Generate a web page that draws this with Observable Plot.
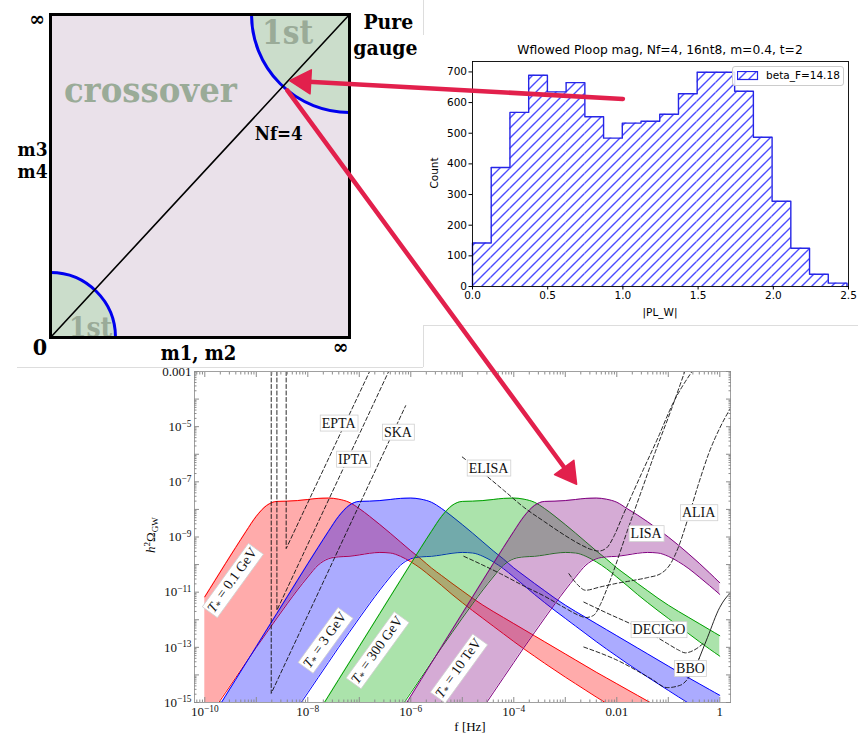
<!DOCTYPE html>
<html>
<head>
<meta charset="utf-8">
<title>Nf=4 phase diagram, Polyakov loop histogram and GW spectra</title>
<script src="https://cdn.jsdelivr.net/npm/d3@7"></script>
<script src="https://cdn.jsdelivr.net/npm/@observablehq/plot@0.6"></script>
<style>
html,body{margin:0;padding:0;background:#fff;}
#root{position:relative;width:858px;height:739px;overflow:hidden;background:#fff;}
.abs{position:absolute;}
.abs>svg{display:block;}
.c{position:absolute;transform:translate(-50%,-50%);white-space:nowrap;}
.rot{position:absolute;transform:translate(-50%,-50%) rotate(-90deg);white-space:nowrap;}
.bline{position:absolute;background:#dddddd;}
</style>
</head>
<body>
<div id="root"></div>
<script>
// ======================= DATA =======================
// --- Panel A: schematic phase diagram ---
const phaseXLabel = "m1, m2";
const phaseYLabel = ["m3", "m4"];
const phaseFirstOrderCorners = [{m12: 1, m34: 1}, {m12: 0, m34: 0}]; // pure gauge corner, chiral corner
const phaseNf4Line = [{m12: 0, m34: 0}, {m12: 1, m34: 1}];

// --- Panel B: histogram of |PL_W| ---
const histTitle = "Wflowed Ploop mag, Nf=4, 16nt8, m=0.4, t=2";
const histXLabel = "|PL_W|";
const histYLabel = "Count";
const histLegendLabel = "beta_F=14.18";
const plwBinEdges = [0.000, 0.1245, 0.249, 0.3735, 0.498, 0.6225, 0.747, 0.8715, 0.996, 1.1205, 1.245,
                     1.3695, 1.494, 1.6185, 1.743, 1.8675, 1.992, 2.1165, 2.241, 2.3655, 2.490];
const plwCounts = [142, 388, 568, 689, 635, 665, 554, 484, 533, 539, 562, 629, 699, 699, 637, 487, 278, 125, 40, 11];
const histTicksX = [0, 0.5, 1, 1.5, 2, 2.5];
const histTicksY = [0, 100, 200, 300, 400, 500, 600, 700];

// --- Panel C: h^2 Omega_GW bands: [log10 f, log10 upper, log10 lower] ---
const gwBandLabels = ["0.1 GeV", "3 GeV", "300 GeV", "10 TeV"];
const bandRed = [
 [-10.0,-11.17,-15.75],[-9.8,-10.57,-15.20],[-9.6,-9.97,-14.65],[-9.4,-9.38,-14.10],[-9.2,-8.80,-13.55],
 [-9.0,-8.25,-13.00],[-8.8,-7.86,-12.47],[-8.6,-7.71,-11.94],[-8.4,-7.70,-11.42],[-8.2,-7.68,-10.92],
 [-8.0,-7.64,-10.45],[-7.8,-7.60,-10.02],[-7.6,-7.59,-9.79],[-7.4,-7.63,-9.72],[-7.2,-7.74,-9.70],
 [-7.0,-7.97,-9.65],[-6.8,-8.25,-9.59],[-6.6,-8.55,-9.56],[-6.4,-8.86,-9.58],[-6.2,-9.18,-9.70],
 [-6.0,-9.50,-9.90],[-5.8,-9.80,-10.15],[-5.6,-10.12,-10.45],[-5.4,-10.40,-10.76],[-5.2,-10.68,-11.08],
 [-5.0,-10.95,-11.38],[-4.8,-11.22,-11.67],[-4.6,-11.47,-11.95],[-4.4,-11.70,-12.23],[-4.2,-11.92,-12.51],
 [-4.0,-12.14,-12.79],[-3.8,-12.36,-13.06],[-3.6,-12.58,-13.32],[-3.4,-12.80,-13.58],[-3.2,-13.02,-13.83],
 [-3.0,-13.24,-14.08],[-2.8,-13.46,-14.32],[-2.6,-13.68,-14.56],[-2.4,-13.90,-14.80],[-2.2,-14.11,-15.03],
 [-2.0,-14.32,-15.26],[-1.8,-14.53,-15.49],[-1.6,-14.74,-15.72],[-1.4,-14.95,-15.95],[-1.2,-15.16,-16.18],
 [-1.0,-15.37,-16.41]
];
const bandBlue = [
 [-9.8,-15.37,-16.5],[-9.6,-14.77,-16.5],[-9.4,-14.17,-16.5],[-9.2,-13.57,-16.5],[-9.0,-12.97,-16.5],
 [-8.8,-12.37,-16.5],[-8.6,-11.77,-16.30],[-8.4,-11.17,-15.75],[-8.2,-10.57,-15.20],[-8.0,-9.97,-14.65],
 [-7.8,-9.38,-14.10],[-7.6,-8.80,-13.55],[-7.4,-8.25,-13.00],[-7.2,-7.86,-12.47],[-7.0,-7.71,-11.94],
 [-6.8,-7.70,-11.42],[-6.6,-7.68,-10.92],[-6.4,-7.64,-10.45],[-6.2,-7.60,-10.02],[-6.0,-7.59,-9.79],
 [-5.8,-7.63,-9.72],[-5.6,-7.74,-9.70],[-5.4,-7.97,-9.65],[-5.2,-8.25,-9.59],[-5.0,-8.55,-9.56],
 [-4.8,-8.86,-9.58],[-4.6,-9.18,-9.70],[-4.4,-9.50,-9.90],[-4.2,-9.80,-10.15],[-4.0,-10.12,-10.45],
 [-3.8,-10.40,-10.76],[-3.6,-10.68,-11.08],[-3.4,-10.95,-11.38],[-3.2,-11.22,-11.67],[-3.0,-11.47,-11.95],
 [-2.8,-11.70,-12.23],[-2.6,-11.92,-12.51],[-2.4,-12.14,-12.79],[-2.2,-12.36,-13.06],[-2.0,-12.58,-13.32],
 [-1.8,-12.80,-13.58],[-1.6,-13.02,-13.83],[-1.4,-13.24,-14.08],[-1.2,-13.46,-14.32],[-1.0,-13.68,-14.56],
 [-0.8,-13.90,-14.80],[-0.6,-14.11,-15.03],[-0.4,-14.32,-15.26],[-0.2,-14.53,-15.49],[0.0,-14.74,-15.72]
];
const bandGreen = [
 [-7.8,-15.37,-16.5],[-7.6,-14.77,-16.5],[-7.4,-14.17,-16.5],[-7.2,-13.57,-16.5],[-7.0,-12.97,-16.5],
 [-6.8,-12.37,-16.5],[-6.6,-11.77,-16.30],[-6.4,-11.17,-15.75],[-6.2,-10.57,-15.20],[-6.0,-9.97,-14.65],
 [-5.8,-9.38,-14.10],[-5.6,-8.80,-13.55],[-5.4,-8.25,-13.00],[-5.2,-7.86,-12.47],[-5.0,-7.71,-11.94],
 [-4.8,-7.70,-11.42],[-4.6,-7.68,-10.92],[-4.4,-7.64,-10.45],[-4.2,-7.60,-10.02],[-4.0,-7.59,-9.79],
 [-3.8,-7.63,-9.72],[-3.6,-7.74,-9.70],[-3.4,-7.97,-9.65],[-3.2,-8.25,-9.59],[-3.0,-8.55,-9.56],
 [-2.8,-8.86,-9.58],[-2.6,-9.18,-9.70],[-2.4,-9.50,-9.90],[-2.2,-9.80,-10.15],[-2.0,-10.12,-10.45],
 [-1.8,-10.40,-10.76],[-1.6,-10.68,-11.08],[-1.4,-10.95,-11.38],[-1.2,-11.22,-11.67],[-1.0,-11.47,-11.95],
 [-0.8,-11.70,-12.23],[-0.6,-11.92,-12.51],[-0.4,-12.14,-12.79],[-0.2,-12.36,-13.06],[0.0,-12.58,-13.32]
];
const bandPurple = [
 [-6.2,-15.37,-16.5],[-6.0,-14.77,-16.5],[-5.8,-14.17,-16.5],[-5.6,-13.57,-16.5],[-5.4,-12.97,-16.5],
 [-5.2,-12.37,-16.5],[-5.0,-11.77,-16.30],[-4.8,-11.17,-15.75],[-4.6,-10.57,-15.20],[-4.4,-9.97,-14.65],
 [-4.2,-9.38,-14.10],[-4.0,-8.80,-13.55],[-3.8,-8.25,-13.00],[-3.6,-7.86,-12.47],[-3.4,-7.71,-11.94],
 [-3.2,-7.70,-11.42],[-3.0,-7.68,-10.92],[-2.8,-7.64,-10.45],[-2.6,-7.60,-10.02],[-2.4,-7.59,-9.79],
 [-2.2,-7.63,-9.72],[-2.0,-7.74,-9.70],[-1.8,-7.97,-9.65],[-1.6,-8.20,-9.59],[-1.4,-8.45,-9.56],
 [-1.2,-8.72,-9.58],[-1.0,-9.00,-9.70],[-0.8,-9.30,-9.90],[-0.6,-9.62,-10.15],[-0.4,-9.95,-10.45],
 [-0.2,-10.30,-10.76],[0.0,-10.66,-11.08]
];
// Detector sensitivity curves: [log10 f, log10 h^2 Omega]
const curveEPTA = [[-8.42,-3.0],[-8.42,-9.42],[-6.80,-3.0]];
const curveIPTA = [[-8.60,-3.0],[-8.60,-11.66],[-6.43,-3.0]];
const curveSKA  = [[-8.71,-3.0],[-8.71,-14.67],[-6.10,-4.24]];
const curveELISA = [[-5.0,-6.10],[-4.6,-6.68],[-4.2,-7.30],[-3.8,-7.93],[-3.4,-8.45],[-3.0,-8.95],[-2.7,-9.28],
  [-2.5,-9.45],[-2.35,-9.51],[-2.2,-9.40],[-2.05,-8.95],[-1.9,-8.30],[-1.7,-7.45],[-1.5,-6.62],[-1.2,-5.40],
  [-0.9,-4.12],[-0.54,-3.0]];
const curveLISA = [[-4.97,-9.70],[-4.6,-10.02],[-4.26,-10.33],[-3.8,-10.78],[-3.4,-11.15],[-3.0,-11.58],
  [-2.75,-11.83],[-2.6,-11.92],[-2.45,-11.84],[-2.32,-11.45],[-2.2,-10.92],[-2.06,-10.22],[-1.8,-8.8],
  [-1.54,-7.43],[-1.22,-5.75],[-0.95,-4.42],[-0.68,-3.0]];
const curveALIA = [[-2.93,-10.33],[-2.75,-10.75],[-2.61,-10.93],[-2.32,-10.81],[-2.0,-10.68],[-1.67,-10.57],
  [-1.4,-10.47],[-1.15,-10.33],[-0.95,-9.95],[-0.8,-9.35],[-0.63,-8.4],[-0.4,-7.0],[-0.2,-5.9],[0.0,-5.05],[0.21,-4.32]];
const curveDECIGO = [[-2.64,-11.36],[-2.2,-11.75],[-1.67,-12.2],[-1.3,-12.55],[-1.02,-12.86],[-0.8,-13.1],
  [-0.67,-13.2],[-0.52,-13.12],[-0.4,-12.98],[-0.3,-12.82]];
const curveBBO = [[-2.64,-12.99],[-1.99,-13.47],[-1.34,-14.13],[-1.02,-14.46],[-0.76,-14.37],[-0.57,-14.01],
  [-0.47,-13.7],[-0.4,-13.4]];
const curveHighF = [[-0.4,-13.4],[-0.24,-12.65],[0.0,-11.55],[0.1,-11.25],[0.21,-11.02]];
const gwTickValuesX = [1e-10, 1e-8, 1e-6, 1e-4, 1e-2, 1];
const gwTickLabelsX = ["10^\u221210", "10^\u22128", "10^\u22126", "10^\u22124", "0.01", "1"];
const gwTickValuesY = [1e-15, 1e-13, 1e-11, 1e-9, 1e-7, 1e-5, 1e-3];
const gwTickLabelsY = ["10^\u221215", "10^\u221213", "10^\u221211", "10^\u22129", "10^\u22127", "10^\u22125", "0.001"];

// ======================= BUILD =======================
const NS = "http://www.w3.org/2000/svg";
const root = document.getElementById("root");
const p10 = e => Math.pow(10, e);
const RED = "#e2204c";

function mount(node, left, top, z) {
  const d = document.createElement("div");
  d.className = "abs";
  Object.assign(d.style, {left: left + "px", top: top + "px", zIndex: z});
  d.appendChild(node);
  root.appendChild(d);
  return d;
}
function htmlText(cls, content, left, top, css) {
  const d = document.createElement("div");
  d.className = cls;
  d.innerHTML = content;
  Object.assign(d.style, {left: left + "px", top: top + "px"}, css || {});
  root.appendChild(d);
  return d;
}
function bline(left, top, w, h) {
  const d = document.createElement("div");
  d.className = "bline";
  Object.assign(d.style, {left: left + "px", top: top + "px", width: w + "px", height: h + "px", zIndex: 3});
  root.appendChild(d);
}

// ---------- Panel C: GW spectra ----------
const GW = {left: 140, top: 355};
const gwBands = [
  {rows: bandRed, fill: "#ff0000", line: "#ff0000"},
  {rows: bandBlue, fill: "#0000ff", line: "#0000ff"},
  {rows: bandGreen, fill: "#00aa00", line: "#00a000"},
  {rows: bandPurple, fill: "#800080", line: "#800080"}
];
const bandMarks = gwBands.flatMap(b => {
  const rows = b.rows.map(([lf, hi, lo]) => ({f: p10(lf), hi: p10(hi), lo: p10(lo)}));
  return [
    Plot.areaY(rows, {x: "f", y1: "lo", y2: "hi", fill: b.fill, fillOpacity: 0.33, curve: "monotone-x", clip: true}),
    Plot.line(rows, {x: "f", y: "hi", stroke: b.line, strokeWidth: 1, curve: "monotone-x", clip: true}),
    Plot.line(rows, {x: "f", y: "lo", stroke: b.line, strokeWidth: 1, curve: "monotone-x", clip: true})
  ];
});
const toPts = arr => arr.map(([lf, lo]) => ({f: p10(lf), o: p10(lo)}));
const dashed = {stroke: "#111", strokeWidth: 0.9, strokeDasharray: "4,2.5", clip: true};
const detectorMarks = [
  Plot.line(toPts(curveEPTA), {x: "f", y: "o", ...dashed}),
  Plot.line(toPts(curveIPTA), {x: "f", y: "o", ...dashed}),
  Plot.line(toPts(curveSKA), {x: "f", y: "o", ...dashed}),
  Plot.line(toPts(curveELISA), {x: "f", y: "o", curve: "monotone-x", ...dashed}),
  Plot.line(toPts(curveLISA), {x: "f", y: "o", curve: "monotone-x", ...dashed}),
  Plot.line(toPts(curveALIA), {x: "f", y: "o", curve: "monotone-x", ...dashed}),
  Plot.line(toPts(curveDECIGO), {x: "f", y: "o", curve: "monotone-x", ...dashed}),
  Plot.line(toPts(curveBBO), {x: "f", y: "o", curve: "monotone-x", ...dashed}),
  Plot.line(toPts(curveHighF), {x: "f", y: "o", curve: "monotone-x", stroke: "#111", strokeWidth: 0.9, clip: true})
];
// annotation placements (data coordinates)
const detectorAnnotations = [
  {t: "EPTA", lf: -7.40, lo: -4.87}, {t: "IPTA", lf: -7.12, lo: -6.18}, {t: "SKA", lf: -6.25, lo: -5.20},
  {t: "ELISA", lf: -4.49, lo: -6.50}, {t: "LISA", lf: -1.43, lo: -8.88}, {t: "ALIA", lf: -0.41, lo: -8.12},
  {t: "DECIGO", lf: -1.18, lo: -12.36}, {t: "BBO", lf: -0.57, lo: -13.77}
];
const bandAnnotations = [
  {t: "T* = " + gwBandLabels[0], lf: -9.46, lo: -10.57},
  {t: "T* = " + gwBandLabels[1], lf: -7.66, lo: -12.74},
  {t: "T* = " + gwBandLabels[2], lf: -6.65, lo: -13.10},
  {t: "T* = " + gwBandLabels[3], lf: -5.07, lo: -13.76}
];
const xDom = [p10(-10.2), p10(0.208)];
const gwDecX = d3.range(-10, 1).map(p10);
const gwMinX = d3.range(-11, 1).flatMap(d => d3.range(2, 10).map(k => k * p10(d))).filter(v => v > xDom[0] && v < xDom[1]);
const gwDecY = d3.range(-15, -2).map(p10);
const gwMinY = d3.range(-15, -3).flatMap(d => d3.range(2, 10).map(k => k * p10(d)));
const labX = new Map(gwTickValuesX.map((v, i) => [v, gwTickLabelsX[i]]));
const labY = new Map(gwTickValuesY.map((v, i) => [v, gwTickLabelsY[i]]));
const tk = {stroke: "#8c8c8c", tickFormat: () => "", label: null};
const gw = Plot.plot({
  width: 600, height: 384, marginLeft: 54, marginRight: 10, marginTop: 16, marginBottom: 37,
  x: {type: "log", domain: xDom},
  y: {type: "log", domain: [1e-15, 1e-3]},
  style: {background: "transparent", fontFamily: "'Liberation Serif', 'DejaVu Serif', serif", fontSize: "13px", color: "#111", overflow: "visible"},
  marks: [
    ...bandMarks,
    ...detectorMarks,
    Plot.frame({stroke: "#a0a0a0", strokeWidth: 1}),
    Plot.axisX({anchor: "bottom", ticks: gwDecX, tickSize: -5, ...tk}),
    Plot.axisX({anchor: "bottom", ticks: gwMinX, tickSize: -2.5, ...tk}),
    Plot.axisX({anchor: "top", ticks: gwDecX, tickSize: -5, ...tk}),
    Plot.axisX({anchor: "top", ticks: gwMinX, tickSize: -2.5, ...tk}),
    Plot.axisY({anchor: "left", ticks: gwDecY, tickSize: -5, ...tk}),
    Plot.axisY({anchor: "left", ticks: gwMinY, tickSize: -2.5, ...tk}),
    Plot.axisY({anchor: "right", ticks: gwDecY, tickSize: -5, ...tk}),
    Plot.axisY({anchor: "right", ticks: gwMinY, tickSize: -2.5, ...tk}),
    Plot.axisX({anchor: "bottom", ticks: gwTickValuesX, tickSize: 0, tickPadding: 4, tickFormat: d => labX.get(d), label: null}),
    Plot.axisY({anchor: "left", ticks: gwTickValuesY, tickSize: 0, tickPadding: 3, tickFormat: d => labY.get(d), label: null}),
    Plot.text(detectorAnnotations, {x: d => p10(d.lf), y: d => p10(d.lo), text: "t", fontSize: 14, fill: "#111"}),
    Plot.text(bandAnnotations, {x: d => p10(d.lf), y: d => p10(d.lo), text: "t", fontSize: 14, rotate: -54, fill: "#111"})
  ]
});
mount(gw, GW.left, GW.top, 1);

// superscripts for "10^-n" tick labels
gw.querySelectorAll("text").forEach(t => {
  if (t.children.length === 0 && t.textContent.includes("^")) {
    const [base, ex] = t.textContent.split("^");
    t.textContent = base;
    const s = document.createElementNS(NS, "tspan");
    s.setAttribute("dy", "-0.45em");
    s.setAttribute("font-size", "0.72em");
    s.textContent = ex;
    t.appendChild(s);
  }
});
// band labels: italic T with subscript star
gw.querySelectorAll("text").forEach(t => {
  const s = t.textContent;
  if (s.startsWith("T* = ")) {
    t.textContent = "";
    const a = document.createElementNS(NS, "tspan"); a.setAttribute("font-style", "italic"); a.textContent = "T";
    const b = document.createElementNS(NS, "tspan"); b.setAttribute("dy", "0.25em"); b.setAttribute("font-size", "0.75em"); b.textContent = "*";
    const c = document.createElementNS(NS, "tspan"); c.setAttribute("dy", "-0.25em"); c.textContent = " = " + s.slice(5);
    t.append(a, b, c);
  }
});
// white label boxes
const boxed = new Set(detectorAnnotations.map(d => d.t));
gw.querySelectorAll("text").forEach(t => {
  const isBand = t.querySelector("tspan[font-style]") !== null;
  if (!(boxed.has(t.textContent) || isBand)) return;
  const bb = t.getBBox();
  const r = document.createElementNS(NS, "rect");
  const pad = 1.5;
  r.setAttribute("x", bb.x - pad); r.setAttribute("y", bb.y - pad + 1);
  r.setAttribute("width", bb.width + 2 * pad); r.setAttribute("height", bb.height + 2 * pad - 2);
  r.setAttribute("fill", "#fff"); r.setAttribute("stroke", "#d0d0d0"); r.setAttribute("stroke-width", "0.8");
  if (t.getAttribute("transform")) r.setAttribute("transform", t.getAttribute("transform"));
  t.parentNode.insertBefore(r, t);
});
htmlText("rot", "<i>h</i><sup style='font-size:70%'>2</sup>\u03a9<sub style='font-size:70%'>GW</sub>", 151, 535,
  {fontFamily: "'Liberation Serif', serif", fontSize: "13px", zIndex: 1});
htmlText("c", "f [Hz]", 470, 727, {fontFamily: "'Liberation Serif', serif", fontSize: "13px", zIndex: 1});

// ---------- Panel A: phase diagram ----------
const PH = {left: 0, top: 0};
const muted = "#9aab98";
const phf = "'DejaVu Serif Condensed', 'DejaVu Serif', serif";
const phaseAnnotations = [
  {t: "\u221e", x: -0.045, y: 0.985, s: 21, c: "#000"},
  {t: "0", x: -0.035, y: -0.03, s: 23, c: "#000"},
  {t: "\u221e", x: 0.97, y: -0.03, s: 21, c: "#000"},
  {t: phaseXLabel, x: 0.495, y: -0.05, s: 20, c: "#000"},
  {t: phaseYLabel[0], x: -0.06, y: 0.58, s: 19, c: "#000"},
  {t: phaseYLabel[1], x: -0.06, y: 0.512, s: 19, c: "#000"},
  {t: "Pure", x: 1.13, y: 0.975, s: 21, c: "#000"},
  {t: "gauge", x: 1.12, y: 0.895, s: 21, c: "#000"},
  {t: "Nf=4", x: 0.763, y: 0.63, s: 18.5, c: "#000"},
  {t: "crossover", x: 0.334, y: 0.765, s: 36, c: muted},
  {t: "1st", x: 0.793, y: 0.94, s: 33, c: muted}
];
const phase = Plot.plot({
  width: 423, height: 367, marginLeft: 50, marginRight: 74, marginTop: 14, marginBottom: 30,
  x: {domain: [0, 1], axis: null}, y: {domain: [0, 1], axis: null},
  style: {background: "#fff", overflow: "visible"},
  marks: [
    Plot.frame({fill: "#eae1ea", stroke: "none"}),
    Plot.dot([phaseFirstOrderCorners[0]], {x: "m12", y: "m34", r: 98, fill: "#cbddcb", stroke: "#0000ee", strokeWidth: 3, clip: true}),
    Plot.dot([phaseFirstOrderCorners[1]], {x: "m12", y: "m34", r: 65, fill: "#cbddcb", stroke: "#0000ee", strokeWidth: 3, clip: true}),
    Plot.line(phaseNf4Line, {x: "m12", y: "m34", stroke: "#000", strokeWidth: 1.6}),
    Plot.text([phaseFirstOrderCorners[1]], {x: () => 0.134, y: () => 0.03, text: () => "1st", fontSize: 28, fill: muted,
      fontWeight: "bold", fontFamily: phf, clip: true}),
    Plot.frame({stroke: "#000", strokeWidth: 3}),
    ...phaseAnnotations.map(a => Plot.text([a], {x: "x", y: "y", text: "t", fontSize: a.s, fill: a.c, fontWeight: "bold", fontFamily: phf}))
  ]
});
mount(phase, PH.left, PH.top, 2);

// ---------- Panel B: histogram ----------
const HB = {left: 430, top: 38};
const histRows = plwCounts.map((c, i) => ({x0: plwBinEdges[i], x1: plwBinEdges[i + 1], count: c}));
const histStep = [{x: plwBinEdges[0], y: 0}];
histRows.forEach(r => histStep.push({x: r.x0, y: r.count}, {x: r.x1, y: r.count}));
histStep.push({x: plwBinEdges[plwBinEdges.length - 1], y: 0});
const HATCH = "#4b4bff";
const hist = Plot.plot({
  width: 428, height: 287, marginLeft: 42, marginRight: 10, marginTop: 23, marginBottom: 39,
  x: {domain: [0, 2.5]}, y: {domain: [0, 734]},
  style: {background: "transparent", fontFamily: "'DejaVu Sans', sans-serif", fontSize: "10.5px", color: "#000", overflow: "visible"},
  marks: [
    Plot.rect(histRows, {x1: "x0", x2: "x1", y1: 0, y2: "count", fill: "url(#plwHatch)"}),
    Plot.line(histStep, {x: "x", y: "y", stroke: "#2626e6", strokeWidth: 1.4}),
    Plot.frame({stroke: "#000", strokeWidth: 0.9}),
    Plot.axisX({ticks: histTicksX, tickFormat: d3.format(".1f"), tickSize: 3.5, tickPadding: 2, label: null}),
    Plot.axisY({ticks: histTicksY, tickSize: 3.5, tickPadding: 2, label: null})
  ]
});
const defs = d3.select(hist).insert("defs", ":first-child");
defs.append("pattern").attr("id", "plwHatch").attr("patternUnits", "userSpaceOnUse").attr("width", 10).attr("height", 10)
  .append("path").attr("d", "M-2,2 L2,-2 M0,10 L10,0 M8,12 L12,8")
  .attr("stroke", HATCH).attr("stroke-width", 1.4).attr("fill", "none");
mount(hist, HB.left, HB.top, 2);
htmlText("c", histTitle, 660, 50, {fontFamily: "'DejaVu Sans', sans-serif", fontSize: "12.3px", zIndex: 3});
htmlText("c", histXLabel, 660, 312, {fontFamily: "'DejaVu Sans', sans-serif", fontSize: "10.5px", zIndex: 3});
htmlText("rot", histYLabel, 434, 173, {fontFamily: "'DejaVu Sans', sans-serif", fontSize: "10.5px", zIndex: 3});
const leg = document.createElement("div");
Object.assign(leg.style, {position: "absolute", left: "732px", top: "66px", width: "110px", height: "18px",
  border: "1px solid #cccccc", borderRadius: "3px", background: "rgba(255,255,255,0.85)", zIndex: 3,
  fontFamily: "'DejaVu Sans', sans-serif", fontSize: "10.5px"});
leg.innerHTML = `<svg width="22" height="10" style="position:absolute;left:4px;top:4px">
  <defs><pattern id="legHatch" patternUnits="userSpaceOnUse" width="10" height="10">
  <path d="M-2,2 L2,-2 M0,10 L10,0 M8,12 L12,8" stroke="${HATCH}" stroke-width="1.4" fill="none"/></pattern></defs>
  <rect x="0.5" y="0.5" width="20" height="8" fill="url(#legHatch)" stroke="#2626e6" stroke-width="1.2"/></svg>
  <span style="position:absolute;left:33px;top:2px;white-space:nowrap">${histLegendLabel}</span>`;
root.appendChild(leg);

// screenshot borders
bline(17, 367, 406, 1);
bline(423, 325, 435, 1);
bline(423, 0, 1, 35);
bline(423, 325, 1, 42);

// ---------- Overlay: red arrows linking panels ----------
const panels = {
  hist: {plot: hist, ...HB},
  phase: {plot: phase, ...PH},
  gw: {plot: gw, ...GW}
};
function pt(name, a, b) {
  const p = panels[name];
  return [p.left + p.plot.scale("x").apply(a), p.top + p.plot.scale("y").apply(b)];
}
const arrowDefs = [
  {id: "a1", from: pt("hist", 1.0, 612), to: pt("phase", 0.80, 0.795)},
  {id: "a2", from: pt("phase", 0.792, 0.765), to: pt("gw", p10(-2.78), p10(-7.09))}
];
const shafts = [], heads = [];
arrowDefs.forEach(a => {
  const [x1, y1] = a.from, [x2, y2] = a.to;
  const L = Math.hypot(x2 - x1, y2 - y1), ux = (x2 - x1) / L, uy = (y2 - y1) / L;
  const hl = 21, hw = 12;
  const bx = x2 - hl * ux, by = y2 - hl * uy;
  shafts.push({x1, y1, x2: bx + 2 * ux, y2: by + 2 * uy});
  heads.push({id: a.id, x: x2, y: y2}, {id: a.id, x: bx - hw * uy, y: by + hw * ux}, {id: a.id, x: bx + hw * uy, y: by - hw * ux}, {id: a.id, x: x2, y: y2});
});
const overlay = Plot.plot({
  width: 858, height: 739, margin: 0,
  x: {type: "identity", axis: null}, y: {type: "identity", axis: null},
  style: {background: "transparent"},
  marks: [
    Plot.link(shafts, {x1: "x1", y1: "y1", x2: "x2", y2: "y2", stroke: RED, strokeWidth: 4.5, strokeLinecap: "round"}),
    Plot.line(heads, {x: "x", y: "y", z: "id", fill: RED, stroke: RED, strokeWidth: 1.5, strokeLinejoin: "round"})
  ]
});
const ov = mount(overlay, 0, 0, 5);
ov.style.pointerEvents = "none";
</script>
</body>
</html>
